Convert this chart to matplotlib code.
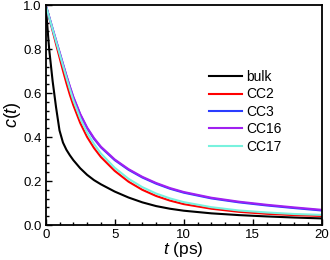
import matplotlib
matplotlib.use("Agg")
import matplotlib.pyplot as plt
from matplotlib.ticker import MultipleLocator

plt.rcParams["font.family"] = ["Liberation Sans", "DejaVu Sans"]
plt.rcParams["mathtext.fontset"] = "custom"
plt.rcParams["mathtext.it"] = "Liberation Sans:italic"
plt.rcParams["mathtext.rm"] = "Liberation Sans"

# time points (ps) and correlation values
t = [0, 0.25, 0.5, 0.75, 1.0, 1.25, 1.5, 1.75, 2, 2.5, 3, 3.5, 4, 5, 6, 7, 8, 9, 10,
     12, 14, 16, 18, 20]
bulk = [1.0, 0.80, 0.655, 0.535, 0.43, 0.375, 0.342, 0.317, 0.295, 0.258, 0.228, 0.204, 0.185,
        0.152, 0.125, 0.103, 0.086, 0.074, 0.065, 0.053, 0.045, 0.039, 0.034, 0.030]
cc2 = [1.0, 0.943, 0.883, 0.822, 0.762, 0.702, 0.645, 0.592, 0.545, 0.464, 0.40, 0.35, 0.309,
       0.246, 0.197, 0.160, 0.132, 0.111, 0.095, 0.074, 0.060, 0.051, 0.045, 0.041]
cc3 = [1.0, 0.946, 0.891, 0.837, 0.784, 0.730, 0.677, 0.627, 0.580, 0.502, 0.440, 0.392,
       0.353, 0.295, 0.251, 0.216, 0.188, 0.165, 0.147, 0.121, 0.103, 0.089, 0.077, 0.066]
cc16 = [1.0, 0.947, 0.893, 0.84, 0.787, 0.733, 0.68, 0.63, 0.583, 0.505, 0.443, 0.395, 0.356,
        0.298, 0.254, 0.219, 0.191, 0.168, 0.150, 0.124, 0.106, 0.092, 0.080, 0.069]
cc17 = [1.0, 0.945, 0.89, 0.835, 0.78, 0.725, 0.67, 0.617, 0.567, 0.485, 0.42, 0.368, 0.325,
        0.26, 0.21, 0.172, 0.143, 0.121, 0.104, 0.081, 0.066, 0.057, 0.050, 0.046]

series = [("bulk", bulk, "black"), ("CC2", cc2, "#ff0000"), ("CC3", cc3, "#2a3cff"),
          ("CC16", cc16, "#a020f0"), ("CC17", cc17, "#78f2de")]

fig = plt.figure(figsize=(3.3, 2.6), dpi=100)
ax = fig.add_axes([0.1385, 0.1346, 0.8365, 0.846])

for name, vals, col in series:
    ax.plot(t, vals, color=col, lw=1.5, label=name)

ax.set_xlim(0, 20)
ax.set_ylim(0, 1.0)
ax.xaxis.set_major_locator(MultipleLocator(5))
ax.xaxis.set_minor_locator(MultipleLocator(1))
ax.yaxis.set_major_locator(MultipleLocator(0.2))
ax.yaxis.set_minor_locator(MultipleLocator(0.04))
ax.yaxis.set_major_formatter(plt.FormatStrFormatter("%.1f"))
ax.tick_params(which="both", direction="in", top=False, right=False, labelsize=9.5, width=1)
ax.tick_params(which="major", length=4, pad=3)
ax.tick_params(which="minor", length=2.5)
for s in ax.spines.values():
    s.set_linewidth(1.3)

ax.set_xlabel(r"$t$ (ps)", fontsize=12.5, labelpad=-1)
ax.set_ylabel(r"$c$($t$)", fontsize=13, labelpad=0)

ax.legend(loc="upper left", bbox_to_anchor=(0.592, 0.705), frameon=False, fontsize=10,
          handlelength=2.4, handletextpad=0.3, labelspacing=0.25, borderpad=0, borderaxespad=0)

fig.savefig("out.png", dpi=100)
